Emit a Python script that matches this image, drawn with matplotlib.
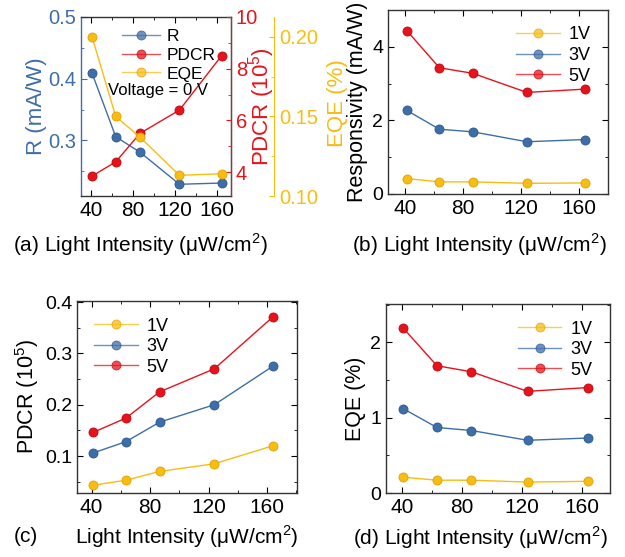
import matplotlib
matplotlib.use('Agg')
import matplotlib.pyplot as plt
from matplotlib.ticker import AutoMinorLocator, MultipleLocator, FormatStrFormatter

plt.rcParams['font.family'] = ['Liberation Sans', 'DejaVu Sans']
plt.rcParams['mathtext.fontset'] = 'custom'
plt.rcParams['mathtext.rm'] = 'Liberation Sans'

# light intensity (uW/cm2)
intensity = [41, 63.5, 86.5, 124, 164]

# panel (a), 0 V
r_0v = [0.409, 0.306, 0.281, 0.229, 0.231]
pdcr_0v = [3.85, 4.4, 5.5, 6.4, 8.5]
eqe_0v = [0.200, 0.150, 0.137, 0.113, 0.114]

voltages = ['1V', '3V', '5V']
# panel (b) responsivity (mA/W)
resp = {'1V': [0.42, 0.33, 0.33, 0.29, 0.30],
        '3V': [2.27, 1.76, 1.69, 1.42, 1.48],
        '5V': [4.44, 3.43, 3.28, 2.76, 2.85]}
# panel (c) PDCR (10^5)
pdcr = {'1V': [0.043, 0.053, 0.070, 0.085, 0.120],
        '3V': [0.106, 0.128, 0.166, 0.200, 0.275],
        '5V': [0.146, 0.174, 0.225, 0.270, 0.371]}
# panel (d) EQE (%)
eqe = {'1V': [0.21, 0.17, 0.17, 0.145, 0.155],
       '3V': [1.12, 0.87, 0.83, 0.70, 0.73],
       '5V': [2.19, 1.69, 1.61, 1.35, 1.40]}

BLUE = '#3e6ea8'
RED = '#e8121b'
YEL = '#f8bd12'
cols = {'1V': YEL, '3V': BLUE, '5V': RED}
edge = {YEL: '#e0a000', BLUE: '#2a5690', RED: '#b80a10'}
GRAY = '#333333'

W, H = 625, 557
fig = plt.figure(figsize=(6.25, 5.57), dpi=100)


def box(l, t, r, b):  # pixel box -> figure fraction
    return [l / W, 1 - b / H, (r - l) / W, (b - t) / H]


def style(ax, xfs=15, yfs=14):
    ax.tick_params(which='both', direction='in', top=True, right=True, colors='black')
    ax.tick_params(axis='x', labelsize=xfs)
    ax.tick_params(axis='y', labelsize=yfs)
    ax.tick_params(which='major', length=4)
    ax.tick_params(which='minor', length=2)
    for s in ax.spines.values():
        s.set_color(GRAY)
        s.set_linewidth(1.0)
    ax.xaxis.set_major_locator(MultipleLocator(40))
    ax.xaxis.set_minor_locator(AutoMinorLocator(2))
    ax.yaxis.set_minor_locator(AutoMinorLocator(2))


def curve(ax, y, c, label=None):
    return ax.plot(intensity, y, '-o', color=c, lw=1.0, ms=6.5, mfc=c, mec=edge[c], mew=0.6, label=label)[0]


# ---- (a)
ax = fig.add_axes(box(81, 17, 231, 196))
style(ax, 15, 14.5)
ax.tick_params(right=False)
ax.set_xlim(30.5, 173)
ax.set_ylim(0.21, 0.5)
ax.yaxis.set_major_locator(MultipleLocator(0.1))
ax.spines['left'].set_color(BLUE)
ax.tick_params(axis='y', which='both', colors=BLUE, labelcolor=BLUE)
ax.set_ylabel('R (mA/W)', color=BLUE, fontsize=16, labelpad=1)
ax2 = ax.twinx()
ax2.set_ylim(3.08, 10)
ax2.yaxis.set_major_locator(MultipleLocator(2))
ax2.yaxis.set_minor_locator(AutoMinorLocator(2))
ax2.tick_params(which='both', direction='in', labelsize=14.5, colors=RED)
ax2.tick_params(which='minor', length=2)
ax2.spines['right'].set_color(RED)
ax2.set_ylabel('PDCR (10$^5$)', color=RED, fontsize=16, labelpad=-9)
ax3 = ax.twinx()
ax3.spines['right'].set_position(('outward', 31))
ax3.set_ylim(0.10, 0.2125)
ax3.yaxis.set_major_locator(MultipleLocator(0.05))
ax3.yaxis.set_minor_locator(AutoMinorLocator(2))
ax3.tick_params(which='both', direction='in', labelsize=14.5, colors=YEL)
ax3.tick_params(which='minor', length=2)
ax3.yaxis.set_major_formatter(FormatStrFormatter('%.2f'))
ax3.spines['right'].set_color(YEL)
ax3.set_ylabel('EQE (%)', color=YEL, fontsize=16)
ax3.yaxis.set_label_coords(1.64, 0.52)
for a in (ax2, ax3):
    for s in ('top', 'left', 'bottom'):
        a.spines[s].set_visible(False)
h1 = curve(ax, r_0v, BLUE, 'R')
h2 = curve(ax2, pdcr_0v, RED, 'PDCR')
h3 = curve(ax3, eqe_0v, YEL, 'EQE')
leg = ax3.legend(handles=[h1, h2, h3], loc='upper left', bbox_to_anchor=(0.19, 1.0), frameon=False,
                 fontsize=12.5, handlelength=2.2, labelspacing=0.2, borderaxespad=0.3, handletextpad=0.4)
for l in leg.get_lines():
    l.set_alpha(0.75)
ax3.text(0.18, 0.59, 'Voltage = 0 V', transform=ax3.transAxes, fontsize=12, va='center')

# ---- (b), (c), (d)
panels = [((388, 10, 608, 194), resp, (28, 180), (0, 5), 2, 'Responsivity (mA/W)', 'upper right', (0.97, 0.97)),
          ((77, 301, 297, 493), pdcr, (30, 180.5), (0.028, 0.402), 0.1, 'PDCR (10$^5$)', 'upper left', (0.03, 0.97)),
          ((386, 304, 610, 493), eqe, (29.5, 179), (0, 2.51), 1, 'EQE (%)', 'upper right', (0.97, 0.97))]
for bx, d, xl, yl, step, lab, loc, anc in panels:
    a = fig.add_axes(box(*bx))
    style(a)
    a.set_xlim(*xl)
    a.set_ylim(*yl)
    a.yaxis.set_major_locator(MultipleLocator(step))
    a.yaxis.set_minor_locator(AutoMinorLocator(2))
    for v in voltages:
        curve(a, d[v], cols[v], v)
    a.set_ylabel(lab, fontsize=15.5, labelpad=3)
    lg = a.legend(loc=loc, bbox_to_anchor=anc, frameon=False, fontsize=13, handlelength=2.4,
                  labelspacing=0.2, handletextpad=0.5, borderaxespad=0.2)
    for l in lg.get_lines():
        l.set_alpha(0.75)

fs = 15
fig.text(140 / W, 1 - 245 / H, '(a) Light Intensity (μW/cm$^2$)', ha='center', va='center', fontsize=fs)
fig.text(479 / W, 1 - 245 / H, '(b) Light Intensity (μW/cm$^2$)', ha='center', va='center', fontsize=fs)
fig.text(26 / W, 1 - 537 / H, '(c)', ha='center', va='center', fontsize=fs)
fig.text(187 / W, 1 - 537 / H, 'Light Intensity (μW/cm$^2$)', ha='center', va='center', fontsize=fs)
fig.text(480 / W, 1 - 538 / H, '(d) Light Intensity (μW/cm$^2$)', ha='center', va='center', fontsize=fs)

fig.savefig('out.png', dpi=100)
